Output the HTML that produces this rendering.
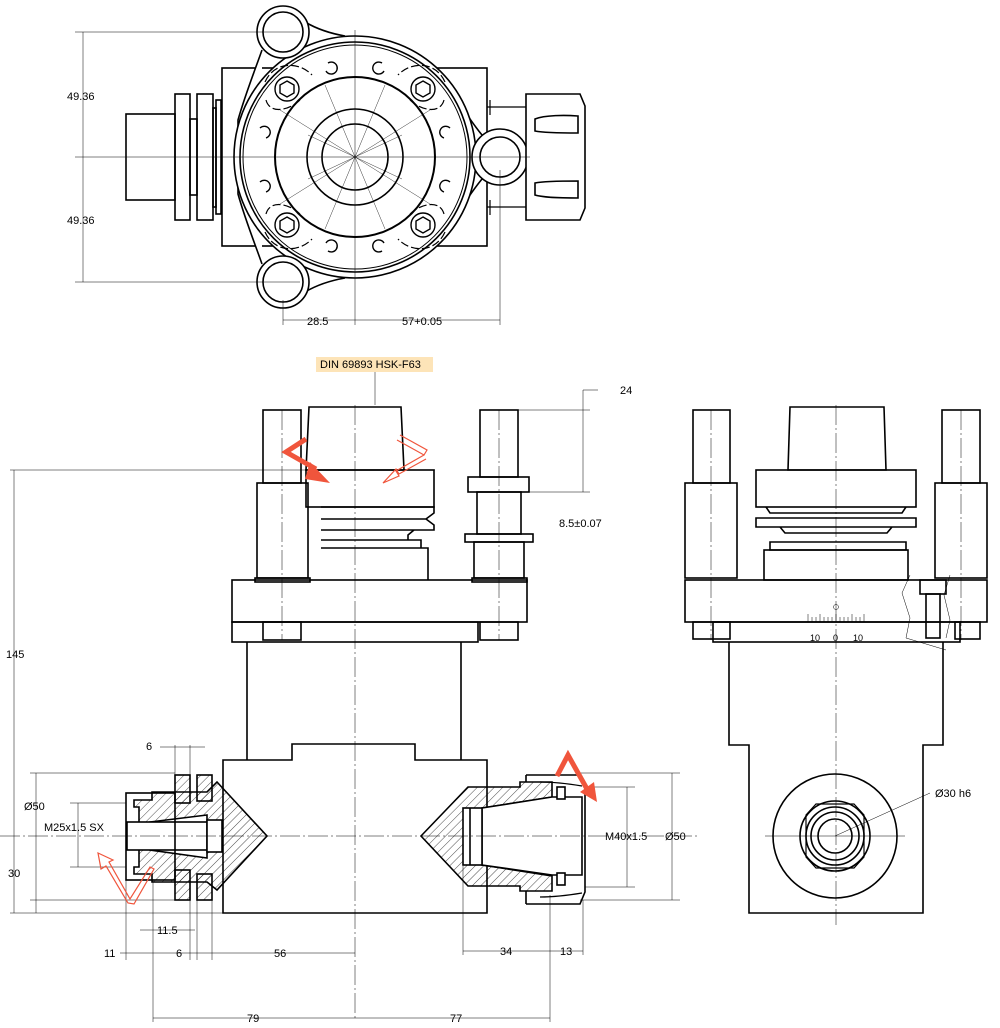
<!DOCTYPE html>
<html><head><meta charset="utf-8"><style>
html,body{margin:0;padding:0;background:#fff;}
svg{display:block;font-family:"Liberation Sans",sans-serif;}
</style></head><body>
<svg width="1000" height="1028" viewBox="0 0 1000 1028" xmlns="http://www.w3.org/2000/svg">
<defs>
<pattern id="h" width="6" height="6" patternUnits="userSpaceOnUse" patternTransform="rotate(45)"><line x1="0" y1="0" x2="0" y2="6" stroke="#000" stroke-width="0.7"/></pattern>
</defs>
<g fill="none" stroke="#000" stroke-width="1.6">
<!-- ========== TOP VIEW ========== -->
<rect x="222" y="68" width="265" height="178" fill="#fff"/>
<rect x="126" y="114" width="49" height="86"/>
<rect x="175" y="94" width="15" height="126"/>
<rect x="190" y="119" width="7" height="76"/>
<rect x="197" y="94" width="16" height="126"/>
<rect x="213" y="108" width="3" height="99"/>
<rect x="216" y="100" width="5" height="114"/>
<!-- body outline with lugs -->
<path d="M262,50 C255,70 245,95 238,120 L238,194 C245,219 255,244 262,264" fill="#fff"/>
<path d="M305,22 Q322,32 345,36 M305,292 Q322,282 345,278" />
<path d="M452,90 Q468,118 482,135 M452,224 Q468,196 482,179"/>
<circle cx="355" cy="157" r="121" fill="#fff"/>
<circle cx="355" cy="157" r="115"/>
<circle cx="355" cy="157" r="112" stroke-width="1"/>
<circle cx="283" cy="32" r="26" fill="#fff"/><circle cx="283" cy="32" r="20"/>
<circle cx="283" cy="282" r="26" fill="#fff"/><circle cx="283" cy="282" r="20"/>
<circle cx="500" cy="157" r="28" fill="#fff"/><circle cx="500" cy="157" r="20"/>
<circle cx="355" cy="157" r="80" stroke-width="2"/>
<circle cx="355" cy="157" r="48"/>
<circle cx="355" cy="157" r="33"/>
<!-- bolts -->
<g stroke-width="1.4">
<circle cx="287" cy="89" r="12"/><polygon points="287,81 294,85 294,93 287,97 280,93 280,85"/>
<circle cx="423" cy="89" r="12"/><polygon points="423,81 430,85 430,93 423,97 416,93 416,85"/>
<circle cx="287" cy="225" r="12"/><polygon points="287,217 294,221 294,229 287,233 280,229 280,221"/>
<circle cx="423" cy="225" r="12"/><polygon points="423,217 430,221 430,229 423,233 416,229 416,221"/>
</g>
<g stroke-width="1.2" stroke-dasharray="8,3">
<path d="M265,82 C275,60 300,62 312,75 M300,100 C290,110 270,115 266,100"/>
<path d="M445,82 C435,60 410,62 398,75 M410,100 C420,110 440,115 444,100"/>
<path d="M265,232 C275,254 300,252 312,239 M300,214 C290,204 270,199 266,214"/>
<path d="M445,232 C435,254 410,252 398,239 M410,214 C420,204 440,199 444,214"/>
</g>
<g stroke-width="1.4">
<path d="M328,63 a6,6 0 1 1 -2,8"/><path d="M382,63 a6,6 0 1 0 2,8"/>
<path d="M328,251 a6,6 0 1 0 -2,-8"/><path d="M382,251 a6,6 0 1 1 2,-8"/>
<path d="M260,128 a6,6 0 1 1 6,10"/><path d="M260,182 a6,6 0 1 1 6,10"/>
<path d="M450,128 a6,6 0 1 0 -6,10"/><path d="M450,182 a6,6 0 1 0 -6,10"/>
</g>
<!-- collet nut right -->
<path d="M487,107 h40 M487,207 h40" stroke-width="1.2"/>
<path d="M490,100 v15 M490,200 v15" stroke-width="1.2"/>
<path d="M526,94 h54 l5,12 v102 l-5,12 h-54 z" fill="#fff"/>
<path d="M535,119 c10,-4 30,-4 43,-3 v17 c-13,0 -33,0 -43,-2 z"/>
<path d="M535,183 c10,-2 30,-2 43,-2 v17 c-13,0 -33,0 -43,-3 z"/>
</g>
<!-- top view centre lines -->
<g stroke="#000" stroke-width="0.5">
<line x1="75" y1="157" x2="530" y2="157"/>
<line x1="355" y1="30" x2="355" y2="325"/>
<line x1="75" y1="32" x2="300" y2="32"/><line x1="75" y1="282" x2="300" y2="282"/>
<line x1="283" y1="300" x2="283" y2="325"/><line x1="500" y1="170" x2="500" y2="325"/>
<line x1="83" y1="32" x2="83" y2="282"/>
<line x1="283" y1="320" x2="500" y2="320"/>
<g stroke-width="0.4">
<line x1="355" y1="157" x2="430" y2="110"/><line x1="355" y1="157" x2="280" y2="110"/><line x1="355" y1="157" x2="430" y2="204"/><line x1="355" y1="157" x2="280" y2="204"/>
<line x1="355" y1="157" x2="385" y2="85"/><line x1="355" y1="157" x2="325" y2="85"/><line x1="355" y1="157" x2="385" y2="229"/><line x1="355" y1="157" x2="325" y2="229"/>
<line x1="355" y1="157" x2="402" y2="135"/><line x1="355" y1="157" x2="308" y2="135"/><line x1="355" y1="157" x2="402" y2="179"/><line x1="355" y1="157" x2="308" y2="179"/>
</g>
</g>
<g font-size="11" fill="#000">
<text x="67" y="100">49.36</text><text x="67" y="224">49.36</text>
<text x="307" y="325">28.5</text><text x="402" y="325">57+0.05</text>
</g>

<!-- ========== FRONT VIEW ========== -->
<g fill="none" stroke="#000" stroke-width="1.6">
<path d="M309,407 h92 l3,63 h-98 z"/>
<rect x="306" y="470" width="128" height="37"/>
<path d="M321,507 h113 v6 l-8,6 l8,6 v5 h-113 M321,519 h105 M321,530 h93 l-6,5 v5 h-87 M321,540 h100 v8 h-100 M321,548 h107 v32"/>
<rect x="263" y="410" width="38" height="73"/>
<rect x="257" y="483" width="51" height="95"/>
<rect x="255" y="578" width="55" height="4"/>
<rect x="480" y="410" width="38" height="67"/>
<rect x="468" y="477" width="61" height="15"/>
<rect x="477" y="492" width="44" height="42"/>
<rect x="465" y="534" width="68" height="8"/>
<rect x="474" y="542" width="50" height="36"/>
<rect x="472" y="578" width="55" height="4"/>
<rect x="232" y="580" width="295" height="42"/>
<rect x="232" y="622" width="246" height="20"/>
<rect x="263" y="622" width="38" height="18"/>
<rect x="480" y="622" width="38" height="18"/>
<path d="M247,642 v118 M461,642 v118"/>
<path d="M223,760 h69 v-16 h123 v16 h72 v153 h-264 z" fill="#fff"/>
<!-- left collet -->
<path d="M217,782 l50,54 l-50,54 l-10,-8 h-55 v-8 h-18 v-7 h5 v-60 h-5 v-7 h18 v-8 h55 z" fill="url(#h)"/>
<path d="M150,822 l57,-7 v43 l-57,-8 z" fill="#fff"/>
<rect x="127" y="822" width="80" height="28" fill="#fff"/>
<rect x="207" y="820" width="15" height="32" fill="#fff"/>
<rect x="126" y="793" width="49" height="87"/>
<rect x="175" y="775" width="15" height="28" fill="url(#h)"/><rect x="175" y="870" width="15" height="30" fill="url(#h)"/>
<rect x="197" y="775" width="15" height="26" fill="url(#h)"/><rect x="197" y="874" width="15" height="26" fill="url(#h)"/>
<!-- right collet -->
<path d="M421,836 L468,787 H520 V782 H552 V797 L482,808 V865 L552,876 V891 H520 V886 H468 Z" fill="url(#h)"/>
<path d="M482,808 L552,797 H582 V875 H552 L482,865 Z" fill="#fff"/>
<rect x="463" y="808" width="19" height="57" fill="#fff"/>
<line x1="470" y1="808" x2="470" y2="865"/>
<path d="M526,775 h54 l5,10 v107 l-5,12 h-54 M526,775 v7 M526,904 v-13"/>
<path d="M540,782 c15,0 30,2 42,4 M540,897 c15,0 30,-2 42,-4" stroke-width="1.2"/>
<rect x="557" y="787" width="8" height="12" fill="#fff"/><rect x="557" y="873" width="8" height="12" fill="#fff"/>
</g>
<!-- front view thin lines -->
<g stroke="#000" stroke-width="0.5" fill="none">
<line x1="355" y1="405" x2="355" y2="1020" stroke-dasharray="20,3,2,3"/>
<line x1="0" y1="836" x2="700" y2="836" stroke-dasharray="20,3,2,3"/>
<line x1="282" y1="410" x2="282" y2="640" stroke-dasharray="20,3,2,3"/>
<line x1="499" y1="410" x2="499" y2="640" stroke-dasharray="20,3,2,3"/>
<line x1="10" y1="470" x2="435" y2="470"/>
<line x1="10" y1="913" x2="223" y2="913"/>
<line x1="14" y1="470" x2="14" y2="913"/>
<line x1="36" y1="773" x2="36" y2="913"/><line x1="30" y1="773" x2="175" y2="773"/><line x1="30" y1="900" x2="175" y2="900"/>
<line x1="78" y1="803" x2="78" y2="867"/><line x1="70" y1="803" x2="126" y2="803"/><line x1="70" y1="867" x2="126" y2="867"/>
<line x1="518" y1="410" x2="590" y2="410"/><line x1="529" y1="492" x2="590" y2="492"/>
<line x1="583" y1="390" x2="583" y2="492"/><line x1="583" y1="390" x2="598" y2="390"/>
<line x1="375" y1="372" x2="375" y2="405"/>
<line x1="580" y1="773" x2="680" y2="773"/><line x1="580" y1="900" x2="680" y2="900"/>
<line x1="672" y1="773" x2="672" y2="900"/>
<line x1="585" y1="787" x2="635" y2="787"/><line x1="585" y1="887" x2="635" y2="887"/>
<line x1="627" y1="787" x2="627" y2="887"/>
<line x1="175" y1="745" x2="175" y2="775"/><line x1="190" y1="745" x2="190" y2="775"/>
<line x1="160" y1="747" x2="205" y2="747"/>
<line x1="126" y1="880" x2="126" y2="960"/><line x1="153" y1="880" x2="153" y2="1022"/>
<line x1="190" y1="900" x2="190" y2="960"/><line x1="197" y1="900" x2="197" y2="960"/><line x1="212" y1="900" x2="212" y2="960"/>
<line x1="140" y1="930" x2="195" y2="930"/>
<line x1="120" y1="953" x2="355" y2="953"/>
<line x1="153" y1="1018" x2="550" y2="1018"/>
<line x1="463" y1="866" x2="463" y2="955"/><line x1="550" y1="895" x2="550" y2="1022"/><line x1="583" y1="900" x2="583" y2="955"/>
<line x1="463" y1="951" x2="583" y2="951"/>
</g>
<rect x="316" y="357" width="117" height="15" fill="#fde4b8"/>
<g font-size="11" fill="#000">
<text x="320" y="368">DIN 69893 HSK-F63</text>
<text x="620" y="394">24</text>
<text x="559" y="527">8.5±0.07</text>
<text x="6" y="658">145</text>
<text x="24" y="810">Ø50</text>
<text x="44" y="831">M25x1.5 SX</text>
<text x="8" y="877">30</text>
<text x="146" y="750">6</text>
<text x="157" y="934">11.5</text>
<text x="104" y="957">11</text>
<text x="176" y="957">6</text>
<text x="274" y="957">56</text>
<text x="247" y="1022">79</text>
<text x="450" y="1022">77</text>
<text x="500" y="955">34</text>
<text x="560" y="955">13</text>
<text x="605" y="840">M40x1.5</text>
<text x="665" y="840">Ø50</text>
<text x="935" y="797">Ø30 h6</text>
</g>
<!-- red arrows -->
<g stroke="#f0553c" stroke-width="5" fill="none" stroke-linejoin="miter">
<path d="M306,439 L286,452 L316,469"/>
<path d="M557,776 L568,755 L587,789"/>
</g>
<g fill="#f0553c" stroke="none">
<polygon points="310,462 330,483 305,479"/>
<polygon points="580,792 597,802 594,782"/>
</g>
<g fill="none" stroke="#f0553c" stroke-width="1.2">
<path d="M400,435 l27,15 l-3,5 l-27,-15 M424,455 l-28,16 l3,5 l-16,7 l13,-14 l3,5 l27,-15"/>
<path d="M128,903 l-22,-37 l-5,3 l-3,-16 l15,7 l-4,2 l21,37 l20,-32 l4,2 l-20,35 z"/>
</g>

<!-- ========== RIGHT VIEW ========== -->
<g fill="none" stroke="#000" stroke-width="1.6">
<rect x="693" y="410" width="37" height="73"/>
<rect x="685" y="483" width="52" height="95"/>
<rect x="942" y="410" width="38" height="73"/>
<rect x="935" y="483" width="52" height="95"/>
<path d="M790,407 h94 l2,63 h-98 z"/>
<rect x="756" y="470" width="160" height="37"/>
<path d="M766,507 l4,6 h132 l4,-6 M756,518 h160 v9 h-160 z M780,527 l5,6 h102 l5,-6 M770,542 h136 v8 h-136 z"/>
<rect x="764" y="550" width="144" height="30"/>
<rect x="685" y="580" width="302" height="42"/>
<rect x="713" y="622" width="247" height="20"/>
<rect x="693" y="622" width="37" height="17"/><rect x="955" y="622" width="25" height="17"/>
<rect x="920" y="580" width="26" height="14"/>
<rect x="926" y="594" width="14" height="44"/>
<path d="M729,642 v103 h20 v168 h174 v-168 h20 v-103"/>
<circle cx="835" cy="836" r="62"/>
<polygon points="816,804 854,804 864,815 864,857 854,868 816,868 806,857 806,815" stroke-width="1.2"/>
<circle cx="835" cy="836" r="35"/>
<circle cx="835" cy="836" r="29"/>
<circle cx="835" cy="836" r="24"/>
<circle cx="835" cy="836" r="17"/>
</g>
<g stroke="#000" stroke-width="0.5" fill="none">
<line x1="836" y1="405" x2="836" y2="925" stroke-dasharray="20,3,2,3"/>
<line x1="765" y1="836" x2="905" y2="836"/>
<line x1="711" y1="410" x2="711" y2="640" stroke-dasharray="20,3,2,3"/>
<line x1="961" y1="410" x2="961" y2="640" stroke-dasharray="20,3,2,3"/>
<line x1="835" y1="836" x2="930" y2="793"/>
<path d="M910,575 l-8,18 l8,25 l-4,20 l40,12 M950,575 l-6,20 l6,25 l-4,18"/>
<circle cx="836" cy="607" r="2.5"/>
<path d="M808,622 v-8 M812,622 v-5 M816,622 v-5 M820,622 v-8 M824,622 v-5 M828,622 v-5 M832,622 v-5 M836,622 v-8 M840,622 v-5 M844,622 v-5 M848,622 v-5 M852,622 v-8 M856,622 v-5 M860,622 v-5 M864,622 v-8"/>
</g>
<g font-size="9" fill="#000"><text x="810" y="641">10</text><text x="833" y="641">0</text><text x="853" y="641">10</text></g>
</svg>
</body></html>
